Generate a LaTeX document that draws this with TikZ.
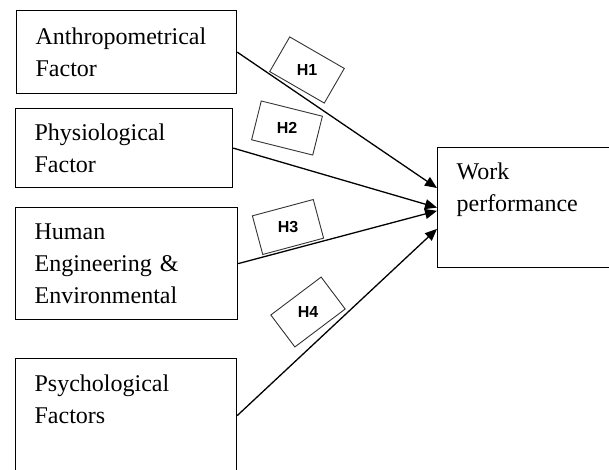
\documentclass[tikz,border=0pt]{standalone}
\usepackage{fontspec}
\setmainfont{Liberation Serif}
\newfontfamily\hypfont{Liberation Sans}
\usetikzlibrary{arrows.meta, positioning}

\tikzset{
  factor/.style={draw, line width=1.2pt, anchor=north west, align=left,
    inner xsep=19pt, inner ysep=0pt, font=\fontsize{24}{32}\selectfont},
  hyp/.style={draw=black!80, line width=0.9pt, minimum width=63pt, minimum height=40pt,
    inner sep=0pt, font=\hypfont\bfseries\fontsize{16}{18}\selectfont},
  link/.style={-{Triangle[length=12pt, width=10pt]}, line width=1.3pt}
}

\begin{document}
\begin{tikzpicture}[x=1pt, y=-1pt]
  \path[use as bounding box] (0,0) rectangle (609,469);
  \clip (0,0) rectangle (609,469);

  % factor boxes (left column)
  \node[factor, text width=182pt, minimum height=83pt] (anthro) at (16,10) {Anthropometrical\\Factor};
  \node[factor, text width=179pt, minimum height=79pt] (physio) at (15,108) {Physiological\\Factor};
  \node[factor, text width=184pt, minimum height=112pt] (human) at (15,207) {Human\\Engineering \&\\Environmental};
  \node[factor, text width=183pt, minimum height=114pt] (psych) at (15,358) {Psychological\\Factors\\\mbox{}};

  % outcome box (cut by the right edge)
  \node[factor, text width=145pt, minimum height=120pt] (work) at (437,147) {Work\\performance\\[8pt]\mbox{}};

  % hypothesised links
  \draw[link] (anthro.east) -- (work.168);
  \draw[link] (physio.east) -- (work.west);
  \draw[link] (human.east) -- (work.182);
  \draw[link] (psych.east) -- (work.193);

  % hypothesis tags: tilted frame, upright text
  \foreach \i/\x/\y/\ang [evaluate=\ang as \back using -\ang] in {1/307/70/-30, 2/287/128/-14, 3/288/227/15, 4/308/312/37}
    \node[hyp, rotate=\ang] (h\i) at (\x,\y) {\rotatebox{\back}{H\i}};
\end{tikzpicture}
\end{document}
